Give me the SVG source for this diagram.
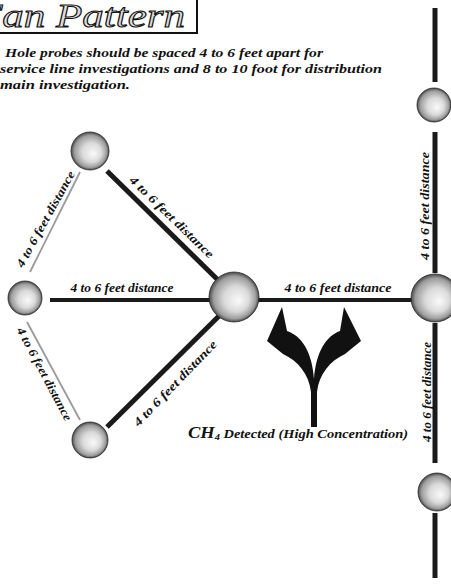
<svg xmlns="http://www.w3.org/2000/svg" width="451" height="586" viewBox="0 0 451 586">
  <defs>
    <radialGradient id="ball" cx="50%" cy="50%" r="50%" fx="60%" fy="58%">
      <stop offset="0" stop-color="#fafafa"/>
      <stop offset="0.5" stop-color="#dadada"/>
      <stop offset="0.85" stop-color="#9c9c9c"/>
      <stop offset="1" stop-color="#484848"/>
    </radialGradient>
    <style>
      .probe { fill: url(#ball); stroke: #2a2a2a; stroke-width: 0.8; }
      .main { stroke: #1a1a1a; stroke-width: 4; fill: none; }
      .thick { stroke: #1a1a1a; stroke-width: 5; fill: none; }
      .bar { stroke: #1a1a1a; stroke-width: 5; fill: none; }
      .thin { stroke: #9a9a9a; stroke-width: 1.8; fill: none; }
      .lbl { font-family: "Liberation Serif", "Times New Roman", serif; font-style: italic; font-weight: bold; font-size: 12px; fill: #111; }
      .note { font-family: "Liberation Serif", "Times New Roman", serif; font-style: italic; font-weight: bold; font-size: 13.5px; fill: #111; }
      .title { font-family: "Liberation Serif", "Times New Roman", serif; font-style: italic; font-size: 34px; fill: #dcdcdc; stroke: #111; stroke-width: 1; }
    </style>
  </defs>
  <rect width="451" height="586" fill="#ffffff"/>

  <!-- title box -->
  <g id="title">
    <rect x="-10" y="-10" width="207" height="43" fill="none" stroke="#111" stroke-width="2"/>
    <text class="title" x="-24" y="27" textLength="209" lengthAdjust="spacingAndGlyphs">Fan Pattern</text>
  </g>

  <g id="note">
    <text class="note" x="5" y="57" textLength="318" lengthAdjust="spacingAndGlyphs">Hole probes should be spaced 4 to 6 feet apart for</text>
    <text class="note" x="0" y="73" textLength="382" lengthAdjust="spacingAndGlyphs">service line investigations and 8 to 10 foot for distribution</text>
    <text class="note" x="0" y="89" textLength="130" lengthAdjust="spacingAndGlyphs">main investigation.</text>
  </g>

  <!-- connectors -->
  <g id="connectors">
    <line class="thick" x1="107" y1="171" x2="220" y2="282"/>
    <line class="thick" x1="107" y1="427" x2="219" y2="316"/>
    <line class="main" x1="50" y1="300" x2="412" y2="300"/>
    <line class="thin" x1="80" y1="172" x2="30" y2="272"/>
    <line class="thin" x1="27" y1="322" x2="80" y2="420"/>
    <line class="bar" x1="435" y1="8" x2="435" y2="82"/>
    <line class="bar" x1="435" y1="132" x2="435" y2="273"/>
    <line class="bar" x1="435" y1="323" x2="435" y2="463"/>
    <line class="bar" x1="435" y1="513" x2="435" y2="578"/>
  </g>

  <!-- distance labels -->
  <g id="labels">
    <text class="lbl" text-anchor="middle" x="122" y="292" textLength="103" lengthAdjust="spacingAndGlyphs">4 to 6 feet distance</text>
    <text class="lbl" text-anchor="middle" x="338" y="292" textLength="107" lengthAdjust="spacingAndGlyphs">4 to 6 feet distance</text>
    <text class="lbl" text-anchor="middle" transform="translate(169,220) rotate(44)" textLength="112" lengthAdjust="spacingAndGlyphs">4 to 6 feet distance</text>
    <text class="lbl" text-anchor="middle" transform="translate(178,386) rotate(-46)" textLength="114" lengthAdjust="spacingAndGlyphs">4 to 6 feet distance</text>
    <text class="lbl" text-anchor="middle" transform="translate(49,221) rotate(-61)" textLength="108" lengthAdjust="spacingAndGlyphs">4 to 6 feet distance</text>
    <text class="lbl" text-anchor="middle" transform="translate(41,376) rotate(62)" textLength="104" lengthAdjust="spacingAndGlyphs">4 to 6 feet distance</text>
    <text class="lbl" text-anchor="middle" transform="translate(429,206) rotate(-90)" textLength="108" lengthAdjust="spacingAndGlyphs">4 to 6 feet distance</text>
    <text class="lbl" text-anchor="middle" transform="translate(431,392) rotate(-90)" textLength="100" lengthAdjust="spacingAndGlyphs">4 to 6 feet distance</text>
  </g>

  <!-- split arrow and detection caption -->
  <g id="detection">
    <path fill="#111" d="M311,427 L311,392 C309,374 298,361 283,354 L267,341 L282,307 L287,331 C302,336 312,352 314,379 C316,352 326,336 340,331 L344,307 L361,341 L345,354 C330,361 319,374 317,392 L317,427 Z"/>
    <text class="lbl" x="188" y="438" textLength="220" lengthAdjust="spacingAndGlyphs"><tspan font-size="16">CH</tspan><tspan font-size="9" dy="2">4</tspan><tspan font-size="12.5" dy="-2"> Detected (High Concentration)</tspan></text>
  </g>

  <!-- probe holes -->
  <g id="probe-top"><circle class="probe" cx="90" cy="151" r="19"/></g>
  <g id="probe-left"><circle class="probe" cx="25" cy="298" r="17"/></g>
  <g id="probe-bottom"><circle class="probe" cx="90" cy="440" r="18"/></g>
  <g id="probe-center"><circle class="probe" cx="234" cy="297" r="25"/></g>
  <g id="probe-right-top"><circle class="probe" cx="434" cy="105" r="17"/></g>
  <g id="probe-right"><circle class="probe" cx="435" cy="298" r="24"/></g>
  <g id="probe-right-bottom"><circle class="probe" cx="437" cy="492" r="19"/></g>
</svg>
